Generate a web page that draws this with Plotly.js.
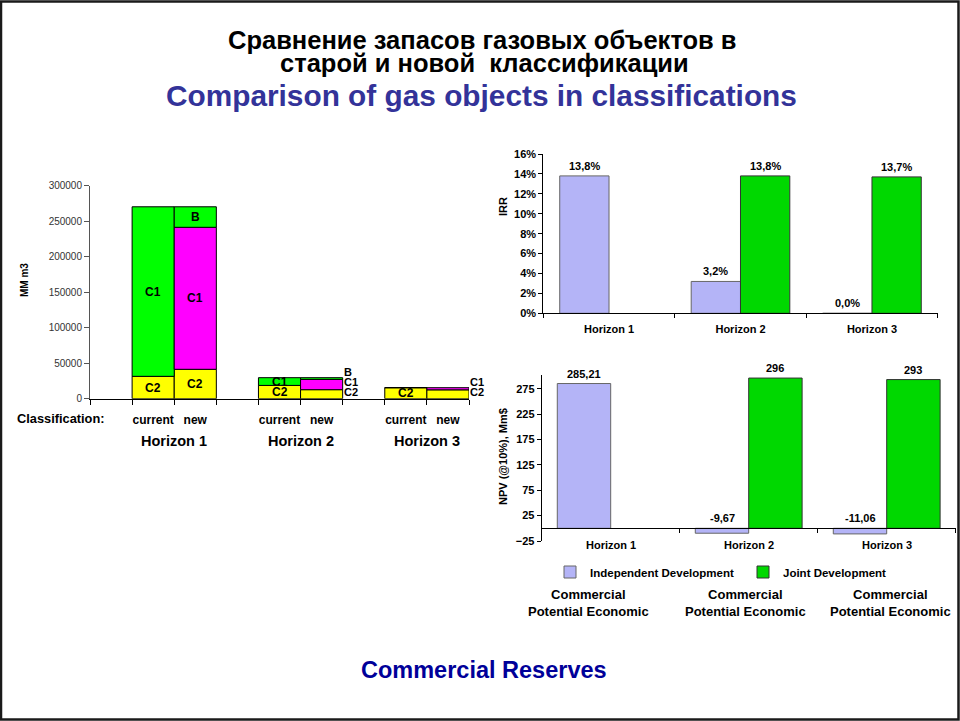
<!DOCTYPE html>
<html>
<head>
<meta charset="utf-8">
<script src="https://cdn.plot.ly/plotly-3.0.1.min.js"></script>
<style>html,body{margin:0;padding:0;background:#fff;overflow:hidden;width:960px;height:721px;}#chart{width:960px;height:721px;overflow:hidden;}</style>
</head>
<body>
<div id="chart"></div>
<script>
// ---------- DATA ----------
const horizons = ['Horizon 1', 'Horizon 2', 'Horizon 3'];
const classifications = ['current', 'new'];
// reserves, MM m3
const currentC2 = [31500, 18700, 15500];
const currentC1 = [238800, 10900, 0];
const newC2 = [41400, 12700, 12500];
const newC1 = [200000, 14500, 3000];
const newB = [28900, 2400, 0];
const reserveTicks = [0, 50000, 100000, 150000, 200000, 250000, 300000];
// economics
const devSeries = ['Independent Development', 'Joint Development'];
const irrIndependent = [0.138, 0.032, 0.0];
const irrJoint = [null, 0.138, 0.137];
const npvIndependent = [285.21, -9.67, -11.06];
const npvJoint = [null, 296, 293];
const bottomCaption = ['Commercial<br>Potential Economic', 'Commercial<br>Potential Economic', 'Commercial<br>Potential Economic'];

// ---------- HELPERS ----------
const W = 960, H = 721;
const fx = p => p / W;
const fy = p => 1 - p / H;
const FONT = 'Liberation Sans, Arial, sans-serif';
const fmtComma = (v, d) => v.toFixed(d).replace('.', ',');
const A = o => Object.assign({showarrow: false, xanchor: 'center', yanchor: 'middle'}, o);

// left chart: bar positions (3 slots per horizon: gap, current, new)
const xPos = [], c2 = [], c1 = [], cB = [], c1Col = [];
horizons.forEach((h, i) => {
  xPos.push(3 * i + 1.5, 3 * i + 2.5);
  c2.push(currentC2[i], newC2[i]);
  c1.push(currentC1[i], newC1[i]);
  cB.push(0, newB[i]);
  c1Col.push('#00ff00', '#ff00ff');
});
const base1 = c2.slice();
const baseB = c2.map((v, k) => v + c1[k]);

const traces = [];
const barLine = {color: '#000', width: 1};
traces.push({type: 'bar', x: xPos, y: c2, width: 1, offset: -0.5, xaxis: 'x', yaxis: 'y',
  marker: {color: '#ffff00', line: barLine}, showlegend: false, hoverinfo: 'skip'});
traces.push({type: 'bar', x: xPos, y: c1, base: base1, width: 1, offset: -0.5, xaxis: 'x', yaxis: 'y',
  marker: {color: c1Col, line: barLine}, showlegend: false, hoverinfo: 'skip'});
traces.push({type: 'bar', x: xPos, y: cB, base: baseB, width: 1, offset: -0.5, xaxis: 'x', yaxis: 'y',
  marker: {color: '#00ff00', line: {color: '#000', width: cB.map(v => v > 0 ? 1 : 0)}}, showlegend: false, hoverinfo: 'skip'});

// IRR chart
const wI = 0.375;
const indepColor = '#b4b4f7', jointColor = '#00d800';
traces.push({type: 'bar', x: horizons, y: irrIndependent, width: wI, offset: -wI, xaxis: 'x2', yaxis: 'y2',
  marker: {color: indepColor, line: {color: '#666', width: 1}}, showlegend: false, name: devSeries[0], hoverinfo: 'skip'});
traces.push({type: 'bar', x: horizons, y: irrJoint, width: wI, offset: 0, xaxis: 'x2', yaxis: 'y2',
  marker: {color: jointColor, line: {color: '#333', width: 1}}, showlegend: false, name: devSeries[1], hoverinfo: 'skip'});

// NPV chart
const wN = 0.387;
traces.push({type: 'bar', x: horizons, y: npvIndependent, width: wN, offset: -wN, xaxis: 'x3', yaxis: 'y3',
  marker: {color: indepColor, line: {color: '#666', width: 1}}, name: devSeries[0], hoverinfo: 'skip'});
traces.push({type: 'bar', x: horizons, y: npvJoint, width: wN, offset: 0, xaxis: 'x3', yaxis: 'y3',
  marker: {color: jointColor, line: {color: '#333', width: 1}}, name: devSeries[1], hoverinfo: 'skip'});

// ---------- ANNOTATIONS ----------
const ann = [];
// titles
ann.push(A({text: '<b>Сравнение запасов газовых объектов в</b>', x: fx(482), y: fy(40.5), xref: 'paper', yref: 'paper', font: {family: FONT, size: 25.5, color: '#000'}}));
ann.push(A({text: '<b>старой и новой  классификации</b>', x: fx(484), y: fy(63), xref: 'paper', yref: 'paper', font: {family: FONT, size: 25.5, color: '#000'}}));
ann.push(A({text: '<b>Comparison of gas objects in classifications</b>', x: fx(481), y: fy(96), xref: 'paper', yref: 'paper', font: {family: FONT, size: 29.8, color: '#333399'}}));
ann.push(A({text: '<b>Commercial Reserves</b>', x: fx(484), y: fy(670), xref: 'paper', yref: 'paper', font: {family: FONT, size: 23.5, color: '#000099'}}));

// left chart bar segment labels
horizons.forEach((h, i) => {
  const small = (currentC2[i] + currentC1[i]) < 100000;
  const cur = [['C2', currentC2[i], 0], ['C1', currentC1[i], currentC2[i]]];
  cur.forEach(([lab, v, b]) => {
    if (v > 0) ann.push(A({text: '<b>' + lab + '</b>', x: 3 * i + 1.5, y: b + v / 2, xref: 'x', yref: 'y', font: {family: FONT, size: 12, color: '#000'}}));
  });
  const nw = [['C2', newC2[i], 0], ['C1', newC1[i], newC2[i]], ['B', newB[i], newC2[i] + newC1[i]]];
  nw.forEach(([lab, v, b], k) => {
    if (v <= 0) return;
    if (!small) {
      ann.push(A({text: '<b>' + lab + '</b>', x: 3 * i + 2.5, y: b + v / 2, xref: 'x', yref: 'y', font: {family: FONT, size: 12, color: '#000'}}));
    } else {
      ann.push(A({text: '<b>' + lab + '</b>', x: 3 * i + 3, y: 0, xref: 'x', yref: 'y', xanchor: 'left', xshift: -1, yshift: 7 + 10 * k, font: {family: FONT, size: 11, color: '#000'}}));
    }
  });
  ann.push(A({text: '<b>' + h + '</b>', x: 3 * i + 2, y: fy(441), xref: 'x', yref: 'paper', font: {family: FONT, size: 14.5, color: '#000'}}));
});
ann.push(A({text: '<b>Classification:</b>', x: fx(15), y: fy(418), xref: 'paper', yref: 'paper', xanchor: 'left', font: {family: FONT, size: 12.8, color: '#000'}}));
ann.push(A({text: '<b>MM m3</b>', x: fx(24), y: fy(280), xref: 'paper', yref: 'paper', textangle: -90, font: {family: FONT, size: 10, color: '#000'}}));

// IRR / NPV value labels and NPV category labels
horizons.forEach((h, i) => {
  [[irrIndependent[i], -wI / 2], [irrJoint[i], wI / 2]].forEach(([v, off]) => {
    if (v === null) return;
    ann.push(A({text: '<b>' + fmtComma(v * 100, 1) + '%</b>', x: i + off, y: Math.max(v, 0), xref: 'x2', yref: 'y2', yanchor: 'bottom', yshift: 2, font: {family: FONT, size: 11, color: '#000'}}));
  });
  [[npvIndependent[i], -wN / 2], [npvJoint[i], wN / 2]].forEach(([v, off]) => {
    if (v === null) return;
    const t = Number.isInteger(v) ? String(v) : fmtComma(v, 2);
    ann.push(A({text: '<b>' + t + '</b>', x: i + off, y: Math.max(v, 0), xref: 'x3', yref: 'y3', yanchor: 'bottom', yshift: 2, font: {family: FONT, size: 11, color: '#000'}}));
  });
  ann.push(A({text: '<b>' + h + '</b>', x: i, y: fy(545), xref: 'x3', yref: 'paper', font: {family: FONT, size: 11, color: '#000'}}));
});
ann.push(A({text: '<b>IRR</b>', x: fx(503), y: fy(207), xref: 'paper', yref: 'paper', textangle: -90, font: {family: FONT, size: 11, color: '#000'}}));
ann.push(A({text: '<b>NPV (@10%), Mm$</b>', x: fx(503), y: fy(457), xref: 'paper', yref: 'paper', textangle: -90, font: {family: FONT, size: 11, color: '#000'}}));
const capX = [588, 745, 890];
bottomCaption.forEach((t, i) => {
  ann.push(A({text: '<b>' + t + '</b>', x: fx(capX[i]), y: fy(603), xref: 'paper', yref: 'paper', font: {family: FONT, size: 13, color: '#000'}}));
});

// ---------- LAYOUT ----------
const npvRange = [-25, 302];
const npvDom = [fy(541), fy(375)];
const zeroPos = npvDom[0] + (0 - npvRange[0]) / (npvRange[1] - npvRange[0]) * (npvDom[1] - npvDom[0]);
const bold = (s) => ({family: FONT, size: s, color: '#000', weight: 'bold'});

const layout = {
  width: W, height: H, autosize: false,
  margin: {l: 0, r: 0, t: 0, b: 0, pad: 0},
  paper_bgcolor: '#fff', plot_bgcolor: 'rgba(0,0,0,0)',
  barmode: 'group',
  font: {family: FONT, color: '#000'},
  hovermode: false,
  // left chart
  xaxis: {domain: [fx(90), fx(469)], range: [0, 9], anchor: 'y', showgrid: false, zeroline: false,
    showline: true, linecolor: '#000', linewidth: 1,
    tickmode: 'array', tickvals: xPos, ticktext: xPos.map((p, k) => '<b>' + classifications[k % 2] + '</b>'),
    ticks: '', ticklabelstandoff: 10, tickfont: {family: FONT, size: 12, color: '#000'},
    minor: {tick0: 0, dtick: 1, ticks: 'outside', ticklen: 5, tickcolor: '#000', showgrid: false}},
  yaxis: {domain: [fy(398.7), fy(185.7)], range: [0, 300000], anchor: 'x', showgrid: false, zeroline: false,
    showline: true, linecolor: '#555', linewidth: 1, ticks: 'outside', ticklen: 5, tickcolor: '#555',
    tickmode: 'array', tickvals: reserveTicks, ticktext: reserveTicks.map(String),
    tickfont: {family: FONT, size: 10, color: '#333'}},
  // IRR chart
  xaxis2: {domain: [fx(543.3), fx(937.7)], anchor: 'y2', showgrid: false, zeroline: false,
    showline: true, linecolor: '#000', ticks: 'outside', tickson: 'boundaries', ticklen: 4, tickcolor: '#000',
    tickfont: bold(11), ticklabelstandoff: 5},
  yaxis2: {domain: [fy(313.3), fy(154)], range: [0, 0.16], anchor: 'x2', showgrid: false, zeroline: false,
    showline: true, linecolor: '#000', ticks: 'outside', ticklen: 4, tickcolor: '#000',
    tickformat: '.0%', dtick: 0.02, tickfont: bold(11)},
  // NPV chart
  xaxis3: {domain: [fx(541.7), fx(955.7)], anchor: 'free', position: zeroPos, showgrid: false, zeroline: false,
    showline: true, linecolor: '#000', ticks: 'outside', tickson: 'boundaries', ticklen: 4, tickcolor: '#000',
    showticklabels: false},
  yaxis3: {domain: npvDom, range: npvRange, anchor: 'x3', showgrid: false, zeroline: false,
    showline: true, linecolor: '#000', ticks: 'outside', ticklen: 4, tickcolor: '#000',
    tickmode: 'linear', tick0: -25, dtick: 50, tickfont: bold(11)},
  showlegend: true,
  legend: {orientation: 'h', x: fx(550), y: fy(572), xanchor: 'left', yanchor: 'middle',
    font: bold(11.5), bgcolor: 'rgba(0,0,0,0)',
    entrywidth: 148, entrywidthmode: 'pixels', itemwidth: 30, tracegroupgap: 0},
  annotations: ann,
  shapes: [
    {type: 'rect', xref: 'paper', yref: 'paper', x0: fx(1), x1: fx(958.5), y0: fy(719.5), y1: fy(1.5),
      line: {color: '#1a1a1a', width: 2.5}, fillcolor: 'rgba(0,0,0,0)'}
  ]
};

Plotly.newPlot('chart', traces, layout, {staticPlot: true, displayModeBar: false, responsive: false});
</script>
</body>
</html>
